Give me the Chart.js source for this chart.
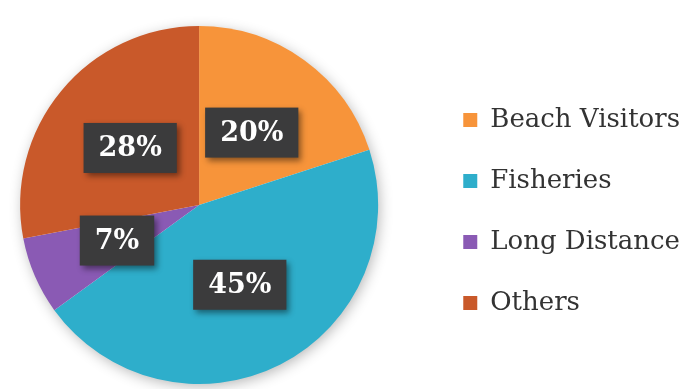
<!DOCTYPE html>
<html>
<head>
<meta charset="utf-8">
<script src="https://cdn.jsdelivr.net/npm/chart.js@4/dist/chart.umd.min.js"></script>
<style>
  html, body { margin: 0; padding: 0; background: #ffffff; }
  #wrap { width: 693px; height: 389px; position: relative; }
</style>
</head>
<body>
<div id="wrap"><canvas id="c" width="693" height="389"></canvas></div>
<script>
const categories = ['Beach Visitors', 'Fisheries', 'Long Distance', 'Others'];
const shares = [20, 45, 7, 28];
const sliceColors = ['#F7943A', '#2EAECB', '#8A5AB4', '#C9592A'];

// leave a gap between the pie area and the legend
const legendGap = {
  id: 'legendGap',
  afterLayout(chart, args, opts) {
    const ca = chart.chartArea;
    ca.right -= opts.gap;
    ca.width = ca.right - ca.left;
  }
};

const pieShadow = {
  id: 'pieShadow',
  beforeDatasetsDraw(chart) {
    const meta = chart.getDatasetMeta(0);
    const a = meta.data[0];
    if (!a) return;
    const ctx = chart.ctx;
    ctx.save();
    ctx.shadowColor = 'rgba(0,0,0,0.30)';
    ctx.shadowBlur = 14;
    ctx.shadowOffsetX = 2;
    ctx.shadowOffsetY = 3;
    ctx.fillStyle = '#ffffff';
    ctx.beginPath();
    ctx.arc(a.x, a.y, a.outerRadius - 1, 0, Math.PI * 2);
    ctx.fill();
    ctx.restore();
  }
};

const boxLabels = {
  id: 'boxLabels',
  afterDatasetsDraw(chart) {
    const ctx = chart.ctx;
    const meta = chart.getDatasetMeta(0);
    const data = chart.data.datasets[0].data;
    ctx.save();
    ctx.font = 'bold 27px "DejaVu Serif"';
    ctx.textAlign = 'center';
    ctx.textBaseline = 'middle';
    meta.data.forEach((arc, i) => {
      const p = arc.tooltipPosition();
      const txt = data[i] + '%';
      const w = ctx.measureText(txt).width + 30;
      const h = 50;
      ctx.save();
      ctx.shadowColor = 'rgba(0,0,0,0.45)';
      ctx.shadowBlur = 6;
      ctx.shadowOffsetX = 3;
      ctx.shadowOffsetY = 3;
      ctx.fillStyle = '#3B3B3C';
      ctx.fillRect(p.x - w / 2, p.y - h / 2, w, h);
      ctx.restore();
      ctx.fillStyle = '#FFFFFF';
      ctx.fillText(txt, p.x, p.y + 1);
    });
    ctx.restore();
  }
};

new Chart(document.getElementById('c'), {
  type: 'pie',
  data: {
    labels: categories,
    datasets: [{
      data: shares,
      backgroundColor: sliceColors,
      borderWidth: 0,
      radius: 179
    }]
  },
  options: {
    responsive: false,
    animation: false,
    devicePixelRatio: 1,
    layout: { padding: { left: 0, top: 59, bottom: 38, right: 3 } },
    plugins: {
      tooltip: { enabled: false },
      legendGap: { gap: 30 },
      legend: {
        position: 'right',
        align: 'end',
        labels: {
          boxWidth: 14,
          boxHeight: 14,
          padding: 35,
          color: '#333333',
          font: { family: '"DejaVu Serif"', size: 26 }
        }
      }
    }
  },
  plugins: [legendGap, pieShadow, boxLabels]
});
</script>
</body>
</html>
